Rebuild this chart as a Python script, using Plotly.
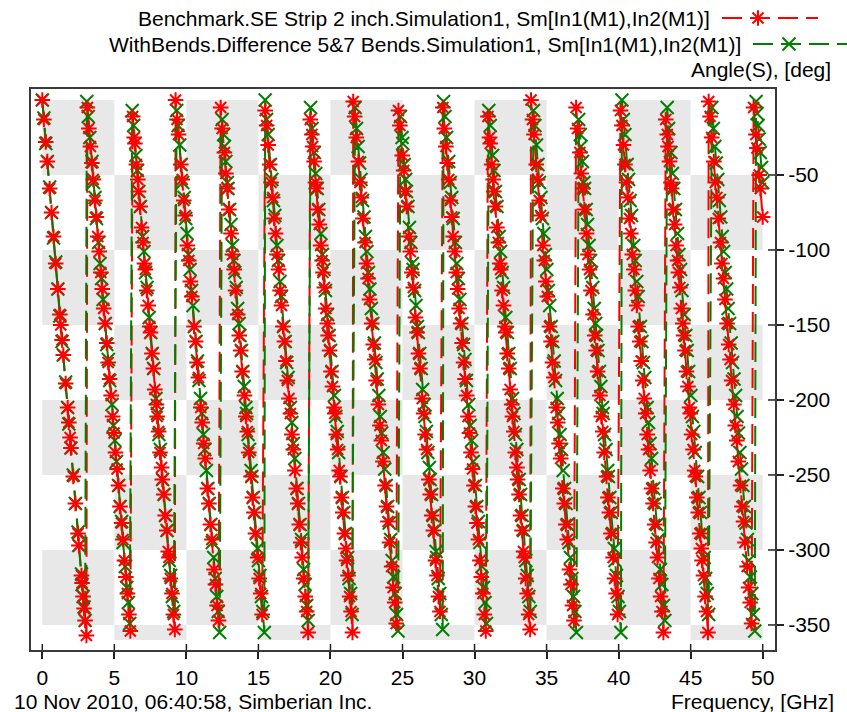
import plotly.graph_objects as go

# Sm[In1(M1),In2(M1)] phase, wrapped to (-360, 0] deg, against frequency in GHz.
# One line per wrap of the phase.
bench_freq_ghz = [
    0.00, 0.11, 0.24, 0.35, 0.51, 0.64, 0.78, 0.93, 1.08, 1.22, 1.28, 1.37, 1.46, 1.62, 1.76, 1.84, 1.93, 1.99, 2.15, 2.30, 2.48, 2.54, 2.72, 2.76, 2.83, 2.90, 2.97, 3.06,
    3.13, 3.23, 3.34, 3.44, 3.54, 3.65, 3.75, 3.85, 3.95, 4.06, 4.16, 4.26, 4.36, 4.47, 4.57, 4.67, 4.78, 4.88, 4.98, 5.08, 5.19, 5.29, 5.39, 5.50, 5.60, 5.70, 5.80, 5.91, 6.01, 6.11,
    6.27, 6.38, 6.43, 6.53, 6.63, 6.68, 6.79, 6.89, 6.99, 7.09, 7.15, 7.25, 7.35, 7.45, 7.51, 7.61, 7.71, 7.81, 7.92, 7.97, 8.07, 8.17, 8.28, 8.33, 8.43, 8.53, 8.64, 8.74, 8.79, 8.89, 9.00, 9.10, 9.20,
    9.25, 9.35, 9.46, 9.61, 9.71, 9.82, 9.92, 10.07, 10.17, 10.28, 10.38, 10.53, 10.64, 10.74, 10.84, 11.00, 11.10, 11.20, 11.31, 11.46, 11.56, 11.67, 11.77, 11.92, 12.02, 12.13, 12.23,
    12.38, 12.48, 12.64, 12.74, 12.84, 12.95, 13.10, 13.20, 13.31, 13.41, 13.56, 13.67, 13.77, 13.87, 14.03, 14.13, 14.23, 14.33, 14.49, 14.59, 14.69, 14.80, 14.95, 15.05, 15.16, 15.26,
    15.47, 15.57, 15.68, 15.78, 15.88, 15.99, 16.09, 16.19, 16.29, 16.40, 16.50, 16.60, 16.70, 16.81, 16.91, 17.01, 17.12, 17.22, 17.32, 17.42, 17.53, 17.63, 17.73, 17.84, 17.94, 18.04, 18.14, 18.25, 18.35, 18.45,
    18.60, 18.71, 18.76, 18.86, 18.96, 19.01, 19.12, 19.22, 19.32, 19.42, 19.48, 19.58, 19.68, 19.78, 19.84, 19.94, 20.04, 20.14, 20.25, 20.30, 20.40, 20.50, 20.61, 20.66, 20.76, 20.86, 20.97, 21.07, 21.12, 21.22, 21.33, 21.43, 21.53,
    21.58, 21.68, 21.79, 21.94, 22.04, 22.15, 22.25, 22.40, 22.50, 22.61, 22.71, 22.86, 22.97, 23.07, 23.17, 23.33, 23.43, 23.53, 23.64, 23.79, 23.89, 24.00, 24.10, 24.25, 24.35, 24.46, 24.56,
    24.72, 24.82, 24.98, 25.08, 25.18, 25.29, 25.44, 25.54, 25.65, 25.75, 25.90, 26.01, 26.11, 26.21, 26.37, 26.47, 26.57, 26.67, 26.83, 26.93, 27.03, 27.14, 27.29, 27.39, 27.50, 27.60,
    27.80, 27.90, 28.01, 28.11, 28.21, 28.32, 28.42, 28.52, 28.62, 28.73, 28.83, 28.93, 29.03, 29.14, 29.24, 29.34, 29.45, 29.55, 29.65, 29.75, 29.86, 29.96, 30.06, 30.17, 30.27, 30.37, 30.47, 30.58, 30.68, 30.78,
    30.93, 31.04, 31.09, 31.19, 31.29, 31.34, 31.45, 31.55, 31.65, 31.75, 31.81, 31.91, 32.01, 32.11, 32.17, 32.27, 32.37, 32.47, 32.58, 32.63, 32.73, 32.83, 32.94, 32.99, 33.09, 33.19, 33.30, 33.40, 33.45, 33.55, 33.66, 33.76, 33.86,
    33.92, 34.02, 34.13, 34.28, 34.38, 34.49, 34.59, 34.74, 34.84, 34.95, 35.05, 35.20, 35.31, 35.41, 35.51, 35.67, 35.77, 35.87, 35.98, 36.13, 36.23, 36.34, 36.44, 36.59, 36.69, 36.80, 36.90,
    37.05, 37.15, 37.31, 37.41, 37.51, 37.62, 37.77, 37.87, 37.98, 38.08, 38.23, 38.34, 38.44, 38.54, 38.70, 38.80, 38.90, 39.00, 39.16, 39.26, 39.36, 39.47, 39.62, 39.72, 39.83, 39.93,
    40.13, 40.23, 40.34, 40.44, 40.54, 40.65, 40.75, 40.85, 40.95, 41.06, 41.16, 41.26, 41.36, 41.47, 41.57, 41.67, 41.78, 41.88, 41.98, 42.08, 42.19, 42.29, 42.39, 42.50, 42.60, 42.70, 42.80, 42.91, 43.01, 43.11,
    43.27, 43.38, 43.43, 43.53, 43.63, 43.68, 43.79, 43.89, 43.99, 44.09, 44.15, 44.25, 44.35, 44.45, 44.51, 44.61, 44.71, 44.81, 44.92, 44.97, 45.07, 45.17, 45.28, 45.33, 45.43, 45.53, 45.64, 45.74, 45.79, 45.89, 46.00, 46.10, 46.20,
    46.25, 46.35, 46.46, 46.61, 46.71, 46.82, 46.92, 47.07, 47.17, 47.28, 47.38, 47.53, 47.64, 47.74, 47.84, 48.00, 48.10, 48.20, 48.31, 48.46, 48.56, 48.67, 48.77, 48.92, 49.02, 49.13, 49.23,
    49.37, 49.53, 49.60, 49.76, 49.84, 50.00,
]
bench_phase_deg = [
    0, -13, -28, -41, -59, -75, -91, -109, -126, -143, -150, -160, -170, -189, -205, -215, -225, -232, -251, -269, -289, -297, -317, -322, -331, -339, -347, -357,
    -5, -19, -31, -42, -53, -67, -78, -91, -101, -115, -126, -139, -149, -162, -175, -186, -197, -211, -222, -235, -246, -257, -271, -282, -293, -307, -318, -329, -343, -354,
    -11, -25, -29, -43, -53, -61, -71, -85, -95, -109, -113, -127, -137, -151, -155, -169, -179, -193, -203, -211, -221, -235, -245, -253, -263, -277, -287, -301, -305, -319, -329, -343, -353,
    0, -13, -23, -43, -53, -67, -77, -97, -107, -121, -131, -151, -161, -175, -185, -205, -215, -229, -239, -259, -269, -283, -293, -313, -323, -337, -347,
    -5, -19, -35, -49, -59, -73, -89, -103, -113, -127, -143, -157, -167, -181, -197, -211, -221, -235, -251, -265, -275, -289, -305, -319, -329, -343,
    -7, -17, -30, -43, -55, -65, -79, -89, -103, -113, -127, -137, -151, -161, -174, -187, -199, -209, -223, -233, -247, -259, -269, -283, -295, -305, -319, -331, -341, -355,
    -13, -23, -31, -41, -55, -59, -73, -83, -97, -107, -115, -125, -139, -149, -157, -167, -181, -191, -205, -209, -223, -233, -247, -251, -265, -275, -289, -299, -307, -317, -331, -341, -355,
    -1, -11, -25, -41, -55, -65, -79, -95, -109, -119, -133, -149, -163, -173, -187, -203, -217, -227, -241, -257, -271, -281, -295, -311, -325, -335, -349,
    -7, -17, -37, -47, -61, -71, -91, -101, -115, -125, -145, -155, -169, -179, -199, -209, -223, -233, -253, -263, -277, -287, -307, -317, -331, -341,
    -5, -19, -31, -42, -53, -67, -78, -91, -101, -115, -126, -139, -149, -162, -175, -186, -197, -211, -222, -235, -246, -257, -271, -282, -293, -307, -318, -329, -343, -354,
    -11, -25, -29, -43, -53, -61, -71, -85, -95, -109, -113, -127, -137, -151, -155, -169, -179, -193, -203, -211, -221, -235, -245, -253, -263, -277, -287, -301, -305, -319, -329, -343, -353,
    0, -13, -23, -43, -53, -67, -77, -97, -107, -121, -131, -151, -161, -175, -185, -205, -215, -229, -239, -259, -269, -283, -293, -313, -323, -337, -347,
    -5, -19, -35, -49, -59, -73, -89, -103, -113, -127, -143, -157, -167, -181, -197, -211, -221, -235, -251, -265, -275, -289, -305, -319, -329, -343,
    -7, -17, -30, -43, -55, -65, -79, -89, -103, -113, -127, -137, -151, -161, -174, -187, -199, -209, -223, -233, -247, -259, -269, -283, -295, -305, -319, -331, -341, -355,
    -13, -23, -31, -41, -55, -59, -73, -83, -97, -107, -115, -125, -139, -149, -157, -167, -181, -191, -205, -209, -223, -233, -247, -251, -265, -275, -289, -299, -307, -317, -331, -341, -355,
    -1, -11, -25, -41, -55, -65, -79, -95, -109, -119, -133, -149, -163, -173, -187, -203, -217, -227, -241, -257, -271, -281, -295, -311, -325, -335, -349,
    -5, -23, -32, -50, -59, -78,
]

bends_freq_ghz = [
    0.00, 0.11, 0.24, 0.35, 0.51, 0.64, 0.78, 0.93, 1.08, 1.22, 1.37, 1.46, 1.62, 1.76, 1.84, 1.99, 2.15, 2.30, 2.48, 2.54, 2.72, 2.76, 2.83, 2.90, 2.97,
    3.09, 3.19, 3.30, 3.45, 3.55, 3.66, 3.76, 3.91, 4.01, 4.12, 4.22, 4.37, 4.48, 4.58, 4.68, 4.84, 4.94, 5.04, 5.15, 5.30, 5.40, 5.51, 5.61, 5.76, 5.86, 5.97, 6.07,
    6.24, 6.34, 6.50, 6.60, 6.70, 6.81, 6.96, 7.06, 7.17, 7.27, 7.42, 7.53, 7.63, 7.73, 7.89, 7.99, 8.09, 8.19, 8.35, 8.45, 8.55, 8.66, 8.81, 8.91, 9.02, 9.12,
    9.33, 9.43, 9.54, 9.64, 9.74, 9.85, 9.95, 10.05, 10.15, 10.26, 10.36, 10.46, 10.56, 10.67, 10.77, 10.87, 10.98, 11.08, 11.18, 11.28, 11.39, 11.49, 11.59, 11.70, 11.80, 11.90, 12.00, 12.11, 12.21, 12.31,
    12.48, 12.59, 12.64, 12.74, 12.84, 12.89, 13.00, 13.10, 13.20, 13.30, 13.36, 13.46, 13.56, 13.66, 13.72, 13.82, 13.92, 14.02, 14.13, 14.18, 14.28, 14.38, 14.49, 14.54, 14.64, 14.74, 14.85, 14.95, 15.00, 15.10, 15.21, 15.31, 15.41,
    15.47, 15.57, 15.68, 15.83, 15.93, 16.04, 16.14, 16.29, 16.39, 16.50, 16.60, 16.75, 16.86, 16.96, 17.06, 17.22, 17.32, 17.42, 17.53, 17.68, 17.78, 17.89, 17.99, 18.14, 18.24, 18.35, 18.45,
    18.62, 18.72, 18.88, 18.98, 19.08, 19.19, 19.34, 19.44, 19.55, 19.65, 19.80, 19.91, 20.01, 20.11, 20.27, 20.37, 20.47, 20.57, 20.73, 20.83, 20.93, 21.04, 21.19, 21.29, 21.40, 21.50,
    21.71, 21.81, 21.92, 22.02, 22.12, 22.23, 22.33, 22.43, 22.53, 22.64, 22.74, 22.84, 22.94, 23.05, 23.15, 23.25, 23.36, 23.46, 23.56, 23.66, 23.77, 23.87, 23.97, 24.08, 24.18, 24.28, 24.38, 24.49, 24.59, 24.69,
    24.86, 24.97, 25.02, 25.12, 25.22, 25.27, 25.38, 25.48, 25.58, 25.68, 25.74, 25.84, 25.94, 26.04, 26.10, 26.20, 26.30, 26.40, 26.51, 26.56, 26.66, 26.76, 26.87, 26.92, 27.02, 27.12, 27.23, 27.33, 27.38, 27.48, 27.59, 27.69, 27.79,
    27.85, 27.95, 28.06, 28.21, 28.31, 28.42, 28.52, 28.67, 28.77, 28.88, 28.98, 29.13, 29.24, 29.34, 29.44, 29.60, 29.70, 29.80, 29.91, 30.06, 30.16, 30.27, 30.37, 30.52, 30.62, 30.73, 30.83,
    30.99, 31.09, 31.25, 31.35, 31.45, 31.56, 31.71, 31.81, 31.92, 32.02, 32.17, 32.28, 32.38, 32.48, 32.64, 32.74, 32.84, 32.94, 33.10, 33.20, 33.30, 33.41, 33.56, 33.66, 33.77, 33.87,
    34.09, 34.19, 34.30, 34.40, 34.50, 34.61, 34.71, 34.81, 34.91, 35.02, 35.12, 35.22, 35.32, 35.43, 35.53, 35.63, 35.74, 35.84, 35.94, 36.04, 36.15, 36.25, 36.35, 36.46, 36.56, 36.66, 36.76, 36.87, 36.97, 37.07,
    37.23, 37.34, 37.39, 37.49, 37.59, 37.64, 37.75, 37.85, 37.95, 38.05, 38.11, 38.21, 38.31, 38.41, 38.47, 38.57, 38.67, 38.77, 38.88, 38.93, 39.03, 39.13, 39.24, 39.29, 39.39, 39.49, 39.60, 39.70, 39.75, 39.85, 39.96, 40.06, 40.16,
    40.23, 40.33, 40.44, 40.59, 40.69, 40.80, 40.90, 41.05, 41.15, 41.26, 41.36, 41.51, 41.62, 41.72, 41.82, 41.98, 42.08, 42.18, 42.29, 42.44, 42.54, 42.65, 42.75, 42.90, 43.00, 43.11, 43.21,
    43.37, 43.47, 43.63, 43.73, 43.83, 43.94, 44.09, 44.19, 44.30, 44.40, 44.55, 44.66, 44.76, 44.86, 45.02, 45.12, 45.22, 45.32, 45.48, 45.58, 45.68, 45.79, 45.94, 46.04, 46.15, 46.25,
    46.47, 46.57, 46.68, 46.78, 46.88, 46.99, 47.09, 47.19, 47.29, 47.40, 47.50, 47.60, 47.70, 47.81, 47.91, 48.01, 48.12, 48.22, 48.32, 48.42, 48.53, 48.63, 48.73, 48.84, 48.94, 49.04, 49.14, 49.25, 49.35, 49.45,
    49.54, 49.61, 49.68, 49.75, 49.83, 49.92, 50.00,
]
bends_phase_deg = [
    0, -12, -29, -41, -58, -75, -92, -108, -126, -144, -161, -170, -188, -205, -216, -232, -250, -269, -288, -297, -316, -323, -331, -338, -347,
    -1, -11, -25, -41, -55, -65, -79, -95, -109, -119, -133, -149, -163, -173, -187, -203, -217, -227, -241, -257, -271, -281, -295, -311, -325, -335, -349,
    -7, -17, -37, -47, -61, -71, -91, -101, -115, -125, -145, -155, -169, -179, -199, -209, -223, -233, -253, -263, -277, -287, -307, -317, -331, -341,
    -7, -17, -30, -43, -55, -65, -79, -89, -103, -113, -127, -137, -151, -161, -174, -187, -199, -209, -223, -233, -247, -259, -269, -283, -295, -305, -319, -331, -341, -355,
    -13, -23, -31, -41, -55, -59, -73, -83, -97, -107, -115, -125, -139, -149, -157, -167, -181, -191, -205, -209, -223, -233, -247, -251, -265, -275, -289, -299, -307, -317, -331, -341, -355,
    0, -13, -23, -43, -53, -67, -77, -97, -107, -121, -131, -151, -161, -175, -185, -205, -215, -229, -239, -259, -269, -283, -293, -313, -323, -337, -347,
    -5, -19, -35, -49, -59, -73, -89, -103, -113, -127, -143, -157, -167, -181, -197, -211, -221, -235, -251, -265, -275, -289, -305, -319, -329, -343,
    -5, -19, -31, -42, -53, -67, -78, -91, -101, -115, -126, -139, -149, -162, -175, -186, -197, -211, -222, -235, -246, -257, -271, -282, -293, -307, -318, -329, -343, -354,
    -11, -25, -29, -43, -53, -61, -71, -85, -95, -109, -113, -127, -137, -151, -155, -169, -179, -193, -203, -211, -221, -235, -245, -253, -263, -277, -287, -301, -305, -319, -329, -343, -353,
    -1, -11, -25, -41, -55, -65, -79, -95, -109, -119, -133, -149, -163, -173, -187, -203, -217, -227, -241, -257, -271, -281, -295, -311, -325, -335, -349,
    -7, -17, -37, -47, -61, -71, -91, -101, -115, -125, -145, -155, -169, -179, -199, -209, -223, -233, -253, -263, -277, -287, -307, -317, -331, -341,
    -7, -17, -30, -43, -55, -65, -79, -89, -103, -113, -127, -137, -151, -161, -174, -187, -199, -209, -223, -233, -247, -259, -269, -283, -295, -305, -319, -331, -341, -355,
    -13, -23, -31, -41, -55, -59, -73, -83, -97, -107, -115, -125, -139, -149, -157, -167, -181, -191, -205, -209, -223, -233, -247, -251, -265, -275, -289, -299, -307, -317, -331, -341, -355,
    0, -13, -23, -43, -53, -67, -77, -97, -107, -121, -131, -151, -161, -175, -185, -205, -215, -229, -239, -259, -269, -283, -293, -313, -323, -337, -347,
    -5, -19, -35, -49, -59, -73, -89, -103, -113, -127, -143, -157, -167, -181, -197, -211, -221, -235, -251, -265, -275, -289, -305, -319, -329, -343,
    -5, -19, -31, -42, -53, -67, -78, -91, -101, -115, -126, -139, -149, -162, -175, -186, -197, -211, -222, -235, -246, -257, -271, -282, -293, -307, -318, -329, -343, -354,
    -1, -9, -17, -26, -35, -45, -55,
]

assert len(bench_freq_ghz) == len(bench_phase_deg)
assert len(bends_freq_ghz) == len(bends_phase_deg)

series_names = [
    "Benchmark.SE Strip 2 inch.Simulation1, Sm[In1(M1),In2(M1)]",
    "WithBends.Difference 5&7 Bends.Simulation1, Sm[In1(M1),In2(M1)]",
]
x_tick_vals = [0, 5, 10, 15, 20, 25, 30, 35, 40, 45, 50]
y_tick_vals = [-50, -100, -150, -200, -250, -300, -350]
# edges of the shaded background cells
cell_x_edges = [0, 5, 10, 15, 20, 25, 30, 35, 40, 45, 50]
cell_y_edges = [0, -50, -100, -150, -200, -250, -300, -350, -360]

# ---- page geometry (pixels) ----
W, H = 847, 712
FRAME_L, FRAME_R, FRAME_T, FRAME_B = 31, 775, 89, 650
FONT = "Liberation Sans, Arial, sans-serif"
RED, GREEN = "#ff0000", "#008000"
AXIS_COLOR = "#3a3a3a"
TICK_COLOR = "#222222"
CELL_GRAY = "#e8e8e8"
DASH = "20px,8px"
MARK_SIZE, MARK_WIDTH = 13, 2


def fx(px):
    return px / W


def fy(py):
    return 1 - py / H


fig = go.Figure()

# dashed connecting lines (green over red), then markers with red asterisks on top
fig.add_trace(go.Scatter(
    x=bench_freq_ghz, y=bench_phase_deg, mode="lines",
    line=dict(color=RED, width=2, dash=DASH), hoverinfo="skip"))
fig.add_trace(go.Scatter(
    x=bends_freq_ghz, y=bends_phase_deg, mode="lines",
    line=dict(color=GREEN, width=2, dash=DASH), hoverinfo="skip"))
fig.add_trace(go.Scatter(
    x=bends_freq_ghz, y=bends_phase_deg, mode="markers", name=series_names[1],
    marker=dict(symbol="x-thin-open", size=MARK_SIZE, color=GREEN,
                line=dict(color=GREEN, width=MARK_WIDTH))))
fig.add_trace(go.Scatter(
    x=bench_freq_ghz, y=bench_phase_deg, mode="markers", name=series_names[0],
    marker=dict(symbol="asterisk-open", size=MARK_SIZE, color=RED,
                line=dict(color=RED, width=MARK_WIDTH))))

# legend keys drawn after the text, on a pixel-space overlay axis
legend_rows = [
    (series_names[0], 712, 722, 18, RED, "asterisk-open"),
    (series_names[1], 743, 753, 44, GREEN, "x-thin-open"),
]
KEY_LEN, KEY_MARK = 96, 36
annotations = []
for name, text_right, key_x, row_y, color, symbol in legend_rows:
    fig.add_trace(go.Scatter(
        x=[key_x, key_x + KEY_LEN], y=[row_y, row_y], mode="lines",
        line=dict(color=color, width=2, dash=DASH),
        xaxis="x2", yaxis="y2", hoverinfo="skip"))
    fig.add_trace(go.Scatter(
        x=[key_x + KEY_MARK], y=[row_y], mode="markers",
        marker=dict(symbol=symbol, size=MARK_SIZE, color=color,
                    line=dict(color=color, width=MARK_WIDTH)),
        xaxis="x2", yaxis="y2", hoverinfo="skip"))
    annotations.append(dict(
        text=name, x=fx(text_right), y=fy(row_y), xref="paper", yref="paper",
        xanchor="right", yanchor="middle", showarrow=False))

annotations += [
    dict(text="Angle(S), [deg]", x=fx(833), y=fy(70), xref="paper", yref="paper",
         xanchor="right", yanchor="middle", showarrow=False),
    dict(text="10 Nov 2010, 06:40:58, Simberian Inc.", x=fx(12), y=fy(701),
         xref="paper", yref="paper", xanchor="left", yanchor="middle", showarrow=False),
    dict(text="Frequency, [GHz]", x=fx(836), y=fy(701), xref="paper", yref="paper",
         xanchor="right", yanchor="middle", showarrow=False),
]

# checkerboard background
shapes = []
for ci in range(len(cell_x_edges) - 1):
    for ri in range(len(cell_y_edges) - 1):
        if (ci + ri) % 2 == 0:
            shapes.append(dict(
                type="rect", xref="x", yref="y", layer="below",
                x0=cell_x_edges[ci], x1=cell_x_edges[ci + 1],
                y0=cell_y_edges[ri], y1=cell_y_edges[ri + 1],
                fillcolor=CELL_GRAY, line=dict(width=0)))

# inner halves of the tick marks (they cross the frame)
for v in x_tick_vals:
    shapes.append(dict(type="line", xref="x", yref="paper", x0=v, x1=v,
                       y0=fy(FRAME_B), y1=fy(FRAME_B - 6),
                       line=dict(color=TICK_COLOR, width=1.5)))
for v in y_tick_vals:
    shapes.append(dict(type="line", xref="paper", yref="y", x0=fx(FRAME_R), x1=fx(FRAME_R - 7),
                       y0=v, y1=v, line=dict(color=TICK_COLOR, width=1.5)))

tick_font = dict(family=FONT, size=21, color="black")
fig.update_layout(
    width=W, height=H,
    margin=dict(l=0, r=0, t=0, b=0),
    paper_bgcolor="white", plot_bgcolor="rgba(0,0,0,0)",
    font=dict(family=FONT, size=21, color="black"),
    showlegend=False,
    shapes=shapes,
    annotations=annotations,
    xaxis=dict(
        domain=[fx(FRAME_L), fx(FRAME_R)], range=[-0.784, 50.854], anchor="y",
        tickmode="array", tickvals=x_tick_vals, ticktext=[str(v) for v in x_tick_vals],
        ticks="outside", ticklen=7, tickwidth=1.5, tickcolor=TICK_COLOR,
        ticklabelstandoff=1,
        showline=True, linewidth=2, linecolor=AXIS_COLOR, mirror=True,
        showgrid=False, zeroline=False, tickfont=tick_font),
    yaxis=dict(
        domain=[fy(FRAME_B), fy(FRAME_T)], range=[-366.7, 7.33], anchor="x",
        side="right", tickmode="array", tickvals=y_tick_vals,
        ticktext=[str(v) for v in y_tick_vals], ticks="outside", ticklen=7,
        tickwidth=1.5, tickcolor=TICK_COLOR,
        showline=True, linewidth=2, linecolor=AXIS_COLOR, mirror=True,
        showgrid=False, zeroline=False, tickfont=tick_font),
    xaxis2=dict(domain=[0, 1], range=[0, W], visible=False, anchor="y2", fixedrange=True),
    yaxis2=dict(domain=[0, 1], range=[H, 0], visible=False, anchor="x2", fixedrange=True),
)

fig.write_html("out.html")
